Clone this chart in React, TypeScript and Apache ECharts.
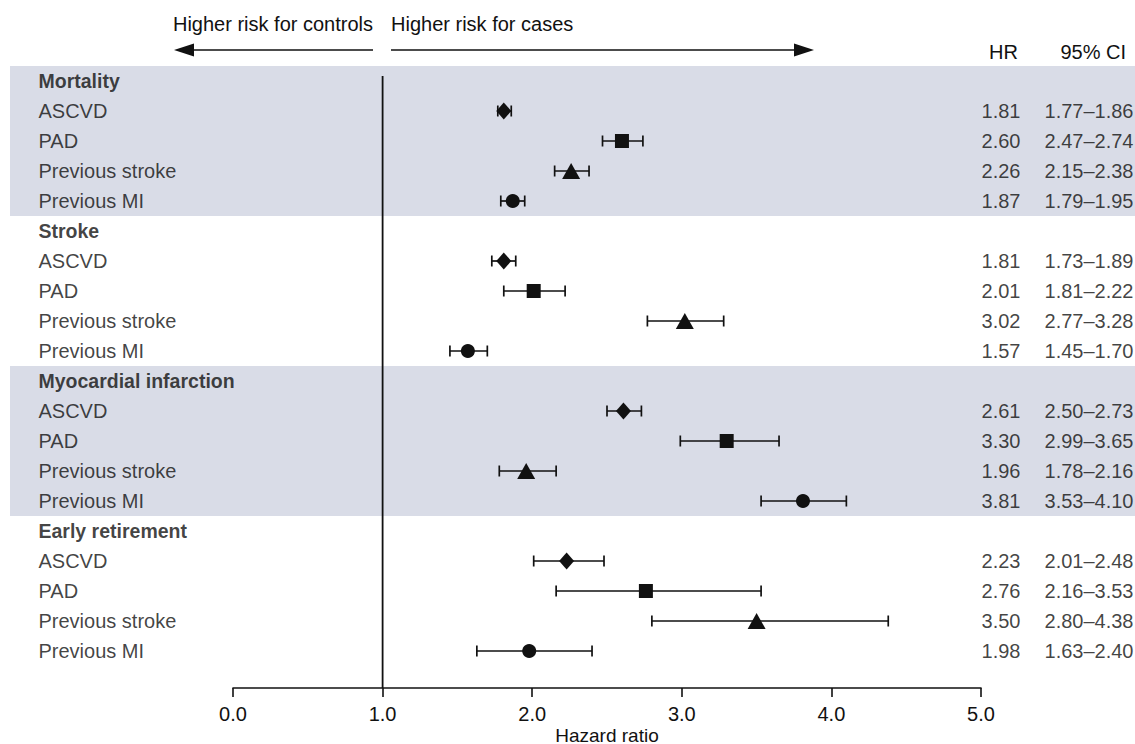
import React, { useEffect, useRef } from "react";
import * as echarts from "echarts";

const groups = ["Mortality", "Stroke", "Myocardial infarction", "Early retirement"];
const subgroups = ["ASCVD", "PAD", "Previous stroke", "Previous MI"];
const symbols = ["diamond", "rect", "triangle", "circle"];
const hr = [
  [1.81, 2.6, 2.26, 1.87],
  [1.81, 2.01, 3.02, 1.57],
  [2.61, 3.3, 1.96, 3.81],
  [2.23, 2.76, 3.5, 1.98],
];
const lo = [
  [1.77, 2.47, 2.15, 1.79],
  [1.73, 1.81, 2.77, 1.45],
  [2.5, 2.99, 1.78, 3.53],
  [2.01, 2.16, 2.8, 1.63],
];
const hi = [
  [1.86, 2.74, 2.38, 1.95],
  [1.89, 2.22, 3.28, 1.7],
  [2.73, 3.65, 2.16, 4.1],
  [2.48, 3.53, 4.38, 2.4],
];
const xTicks = [0, 1, 2, 3, 4, 5];
const shadedGroups = [0, 2];
const xAxisTitle = "Hazard ratio";

const FONT = "'Liberation Sans', Arial, Helvetica, sans-serif";
const INK = "#111111";
const FS = 20;
const FSB = 19.5;

export default function App() {
  const ref = useRef<HTMLDivElement>(null);
  useEffect(() => {
    if (!ref.current) return;
    const chart = echarts.init(ref.current, null, { renderer: "svg" });

    const Y_MIN = -0.5;
    const Y_MAX = 20.233;

    const labelRows: any[] = [];
    const hrRows: any[] = [];
    const ciRows: any[] = [];
    const errRows: any[] = [];
    const pointSeries: any[] = subgroups.map(() => [] as any[]);
    groups.forEach((g, gi) => {
      const base = gi * 5;
      labelRows.push({ value: [28, base], name: g, bold: true });
      subgroups.forEach((s, si) => {
        const row = base + 1 + si;
        labelRows.push({ value: [28, row], name: s, bold: false });
        hrRows.push({ value: [1011, row], name: hr[gi][si].toFixed(2) });
        ciRows.push({
          value: [1124, row],
          name: lo[gi][si].toFixed(2) + "\u2013" + hi[gi][si].toFixed(2),
        });
        errRows.push([lo[gi][si], hi[gi][si], row]);
        pointSeries[si].push([hr[gi][si], row]);
      });
    });

    const textSeries = (data: any[], align: "left" | "right", id: string) => ({
      id,
      type: "scatter",
      xAxisIndex: 0,
      yAxisIndex: 0,
      symbolSize: 1,
      itemStyle: { color: "rgba(0,0,0,0)" },
      silent: true,
      data,
      label: {
        show: true,
        position: align === "left" ? "right" : "left",
        distance: 0,
        formatter: (p: any) => (p.data.bold ? "{b|" + p.data.name + "}" : p.data.name),
        color: INK,
        fontSize: FS,
        fontFamily: FONT,
        rich: { b: { fontWeight: "bold", fontSize: FSB, fontFamily: FONT, color: INK } },
      },
    });

    const option: any = {
      animation: false,
      backgroundColor: "#ffffff",
      grid: [
        { left: 10, right: 0, top: 66, bottom: 56, outerBoundsMode: "none", containLabel: false },
        { left: 233, width: 748, top: 66, bottom: 56, outerBoundsMode: "none", containLabel: false },
      ],
      xAxis: [
        { gridIndex: 0, type: "value", min: 0, max: 1125, show: false },
        {
          gridIndex: 1,
          type: "value",
          min: 0,
          max: 5,
          interval: 1,
          axisLine: { show: true, onZero: false, lineStyle: { color: INK, width: 1.6 } },
          axisTick: { show: true, length: 9, lineStyle: { color: INK, width: 1.6 } },
          axisLabel: {
            color: INK,
            fontSize: FS,
            fontFamily: FONT,
            margin: 16,
            formatter: (v: number) => (xTicks.includes(v) ? v.toFixed(1) : ""),
          },
          splitLine: { show: false },
        },
      ],
      yAxis: [
        { gridIndex: 0, type: "value", min: Y_MIN, max: Y_MAX, inverse: true, show: false },
        { gridIndex: 1, type: "value", min: Y_MIN, max: Y_MAX, inverse: true, show: false },
      ],
      series: [
        {
          id: "bands",
          type: "line",
          xAxisIndex: 0,
          yAxisIndex: 0,
          data: [],
          markArea: {
            silent: true,
            itemStyle: { color: "#d9dce7" },
            data: shadedGroups.map((g) => [{ yAxis: g * 5 - 0.5 }, { yAxis: g * 5 + 4.5 }]),
          },
        },
        textSeries(labelRows, "left", "labels"),
        textSeries(hrRows, "right", "hr"),
        textSeries(ciRows, "right", "ci"),
        {
          id: "refline",
          type: "line",
          xAxisIndex: 1,
          yAxisIndex: 1,
          symbol: "none",
          lineStyle: { color: INK, width: 1.8 },
          data: [
            [1, -0.17],
            [1, Y_MAX],
          ],
          silent: true,
        },
        {
          id: "errors",
          type: "custom",
          xAxisIndex: 1,
          yAxisIndex: 1,
          data: errRows,
          silent: true,
          renderItem: (params: any, api: any) => {
            const a = api.coord([api.value(0), api.value(2)]);
            const b = api.coord([api.value(1), api.value(2)]);
            const h = 5.5;
            const style = { stroke: INK, lineWidth: 1.7 };
            return {
              type: "group",
              children: [
                { type: "line", shape: { x1: a[0], y1: a[1], x2: b[0], y2: b[1] }, style },
                { type: "line", shape: { x1: a[0], y1: a[1] - h, x2: a[0], y2: a[1] + h }, style },
                { type: "line", shape: { x1: b[0], y1: b[1] - h, x2: b[0], y2: b[1] + h }, style },
              ],
            };
          },
        },
        ...pointSeries.map((d, si) => ({
          id: "pts" + si,
          type: "scatter",
          xAxisIndex: 1,
          yAxisIndex: 1,
          symbol: symbols[si],
          symbolSize: si === 0 ? [15, 17] : si === 1 ? 14 : si === 2 ? [18, 16] : 14,
          itemStyle: { color: INK, opacity: 1 },
          data: d,
          silent: true,
          z: 5,
        })),
      ],
      graphic: [
        {
          type: "text",
          right: 1135 - 373,
          top: 14,
          style: { text: "Higher risk for controls", fill: INK, fontSize: FS, fontFamily: FONT, textAlign: "right" },
        },
        {
          type: "text",
          left: 391,
          top: 14,
          style: { text: "Higher risk for cases", fill: INK, fontSize: FS, fontFamily: FONT },
        },
        { type: "line", shape: { x1: 190, y1: 50, x2: 373, y2: 50 }, style: { stroke: INK, lineWidth: 1.7 } },
        { type: "polygon", shape: { points: [[174, 50], [194, 43.5], [194, 56.5]] }, style: { fill: INK } },
        { type: "line", shape: { x1: 391, y1: 50, x2: 798, y2: 50 }, style: { stroke: INK, lineWidth: 1.7 } },
        { type: "polygon", shape: { points: [[814, 50], [794, 43.5], [794, 56.5]] }, style: { fill: INK } },
        {
          type: "text",
          right: 1135 - 1018,
          top: 42,
          style: { text: "HR", fill: INK, fontSize: FS, fontFamily: FONT },
        },
        {
          type: "text",
          right: 1135 - 1126,
          top: 42,
          style: { text: "95% CI", fill: INK, fontSize: FS, fontFamily: FONT },
        },
        {
          type: "text",
          x: 607,
          y: 735,
          style: {
            text: xAxisTitle,
            fill: INK,
            fontSize: 19,
            fontFamily: FONT,
            textAlign: "center",
            textVerticalAlign: "middle",
          },
        },
      ],
    };
    chart.setOption(option);
    return () => chart.dispose();
  }, []);
  return <div ref={ref} style={{ width: 1135, height: 744, position: "absolute", left: 0, top: 0 }} />;
}
